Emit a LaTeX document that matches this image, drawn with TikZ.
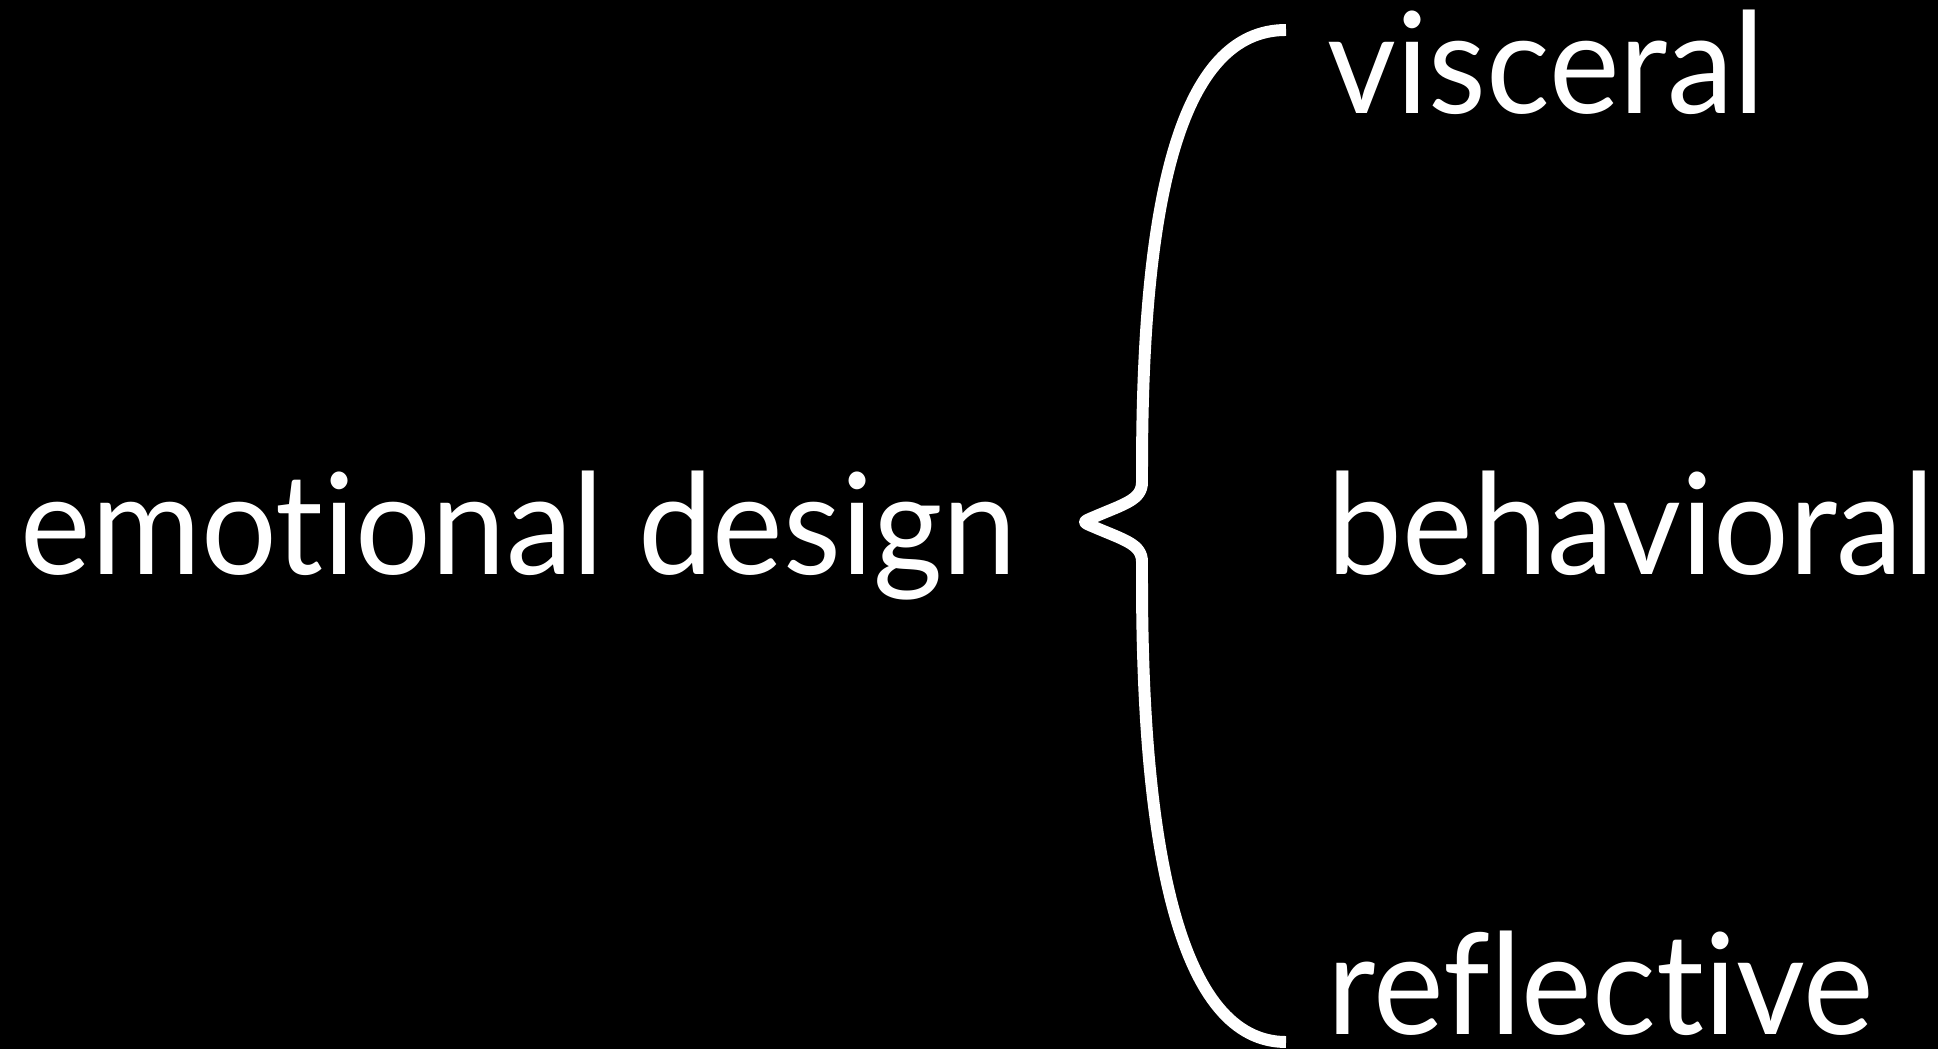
\documentclass[tikz,border=0pt]{standalone}
\usepackage{fontspec}
\setmainfont{Lato}[Ligatures=NoCommon, FakeStretch=0.95]
\usetikzlibrary{positioning}

\begin{document}
\begin{tikzpicture}[
    labeltext/.style={text=white, font=\fontsize{40}{48}\selectfont, inner sep=0pt, anchor=base west},
    braceline/.style={white, line width=3.4pt, line join=round}
]

% 1. Background
\fill[black] (0,0) rectangle (19.38,-10.49);
\useasboundingbox (0,0) rectangle (19.38,-10.49);

% 2. Left label
\node[labeltext] (emo) at (0.20,-5.75) {emotional design};

% 3. Right labels
\node[labeltext] (visc) at (13.27,-1.14) {visceral};
\node[labeltext] (behav) at (13.27,-5.75) {behavioral};
\node[labeltext] (refl) at (13.27,-10.34) {reflective};

% 4. The brace
\draw[braceline] (12.86,-0.30) .. controls (11.80,-0.30) and (11.42,-2.00) .. (11.42,-4.70)
    -- (11.42,-4.82) .. controls (11.42,-5.00) and (11.24,-5.04) .. (10.94,-5.17)
    .. controls (10.82,-5.22) and (10.82,-5.22) .. (10.94,-5.27)
    .. controls (11.24,-5.40) and (11.42,-5.44) .. (11.42,-5.62)
    -- (11.42,-5.80) .. controls (11.42,-8.50) and (11.80,-10.42) .. (12.86,-10.42);

\end{tikzpicture}
\end{document}
